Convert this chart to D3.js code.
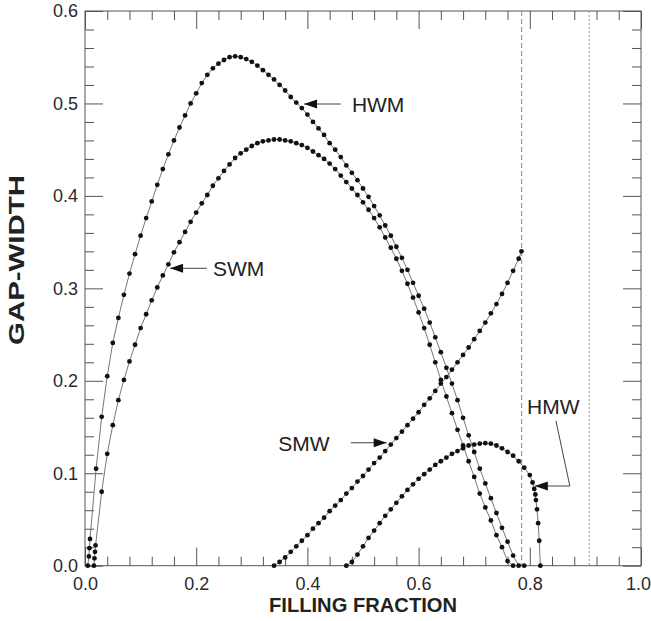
<!DOCTYPE html>
<html>
<head>
<meta charset="utf-8">
<script src="https://cdn.jsdelivr.net/npm/d3@7"></script>
<style>
  html, body { margin: 0; padding: 0; background: #fff; }
  svg { display: block; }
  .axis text { font-family: Arial, "Liberation Sans", Helvetica, sans-serif; font-size: 18px; fill: #2a2a2a; }
  .axis line { stroke: #555; stroke-width: 1; }
  .axis path { display: none; }
  .label { font-family: Arial, "Liberation Sans", Helvetica, sans-serif; fill: #222; }
</style>
</head>
<body>
<script>
// Gap width versus filling fraction, [filling fraction, gap width] per computed point
const HWM = [[0.005,0],[0.007,0.010],[0.008,0.019],[0.009,0.029],[0.02,0.105],[0.03,0.161],[0.04,0.205],[0.05,0.241],[0.06,0.268],[0.07,0.293],[0.08,0.316],[0.09,0.337],[0.10,0.357],[0.11,0.376],[0.12,0.394],[0.13,0.412],[0.14,0.429],[0.15,0.445],[0.16,0.460],[0.17,0.474],[0.18,0.487],[0.19,0.500],[0.20,0.511],[0.21,0.522],[0.22,0.531],[0.23,0.538],[0.24,0.543],[0.25,0.547],[0.26,0.550],[0.27,0.551],[0.28,0.550],[0.29,0.548],[0.30,0.545],[0.31,0.541],[0.32,0.536],[0.33,0.531],[0.34,0.526],[0.35,0.520],[0.36,0.514],[0.37,0.507],[0.38,0.501],[0.39,0.495],[0.40,0.488],[0.41,0.480],[0.42,0.473],[0.43,0.466],[0.44,0.457],[0.45,0.450],[0.46,0.442],[0.47,0.433],[0.48,0.425],[0.49,0.417],[0.50,0.408],[0.51,0.399],[0.52,0.389],[0.53,0.379],[0.54,0.368],[0.55,0.357],[0.56,0.345],[0.57,0.333],[0.58,0.320],[0.59,0.306],[0.60,0.292],[0.61,0.278],[0.62,0.263],[0.63,0.247],[0.64,0.231],[0.65,0.214],[0.66,0.197],[0.67,0.179],[0.68,0.160],[0.69,0.141],[0.70,0.123],[0.71,0.105],[0.72,0.089],[0.73,0.073],[0.74,0.057],[0.75,0.041],[0.76,0.026],[0.77,0.011],[0.78,0],[0.79,0]];

const SWM = [[0.016,0],[0.017,0.008],[0.018,0.015],[0.019,0.022],[0.03,0.080],[0.04,0.121],[0.05,0.152],[0.06,0.179],[0.07,0.201],[0.08,0.221],[0.09,0.239],[0.10,0.257],[0.11,0.272],[0.12,0.287],[0.13,0.301],[0.14,0.314],[0.15,0.326],[0.16,0.339],[0.17,0.350],[0.18,0.361],[0.19,0.372],[0.20,0.382],[0.21,0.392],[0.22,0.401],[0.23,0.411],[0.24,0.419],[0.25,0.427],[0.26,0.434],[0.27,0.441],[0.28,0.446],[0.29,0.450],[0.30,0.454],[0.31,0.457],[0.32,0.459],[0.33,0.460],[0.34,0.461],[0.35,0.461],[0.36,0.460],[0.37,0.459],[0.38,0.457],[0.39,0.455],[0.40,0.452],[0.41,0.448],[0.42,0.444],[0.43,0.440],[0.44,0.435],[0.45,0.429],[0.46,0.422],[0.47,0.415],[0.48,0.408],[0.49,0.401],[0.50,0.393],[0.51,0.385],[0.52,0.376],[0.53,0.366],[0.54,0.355],[0.55,0.344],[0.56,0.332],[0.57,0.319],[0.58,0.305],[0.59,0.290],[0.60,0.274],[0.61,0.257],[0.62,0.239],[0.63,0.220],[0.64,0.201],[0.65,0.183],[0.66,0.165],[0.67,0.147],[0.68,0.130],[0.69,0.113],[0.70,0.096],[0.71,0.078],[0.72,0.063],[0.73,0.049],[0.74,0.033],[0.75,0.020],[0.76,0.005],[0.77,0]];

const SMW = [[0.34,0],[0.35,0.004],[0.36,0.009],[0.37,0.015],[0.38,0.021],[0.39,0.027],[0.40,0.033],[0.41,0.040],[0.42,0.046],[0.43,0.052],[0.44,0.059],[0.45,0.065],[0.46,0.071],[0.47,0.078],[0.48,0.084],[0.49,0.091],[0.50,0.097],[0.51,0.104],[0.52,0.111],[0.53,0.117],[0.54,0.124],[0.55,0.131],[0.56,0.138],[0.57,0.145],[0.58,0.152],[0.59,0.159],[0.60,0.166],[0.61,0.174],[0.62,0.181],[0.63,0.189],[0.64,0.197],[0.65,0.204],[0.66,0.212],[0.67,0.220],[0.68,0.228],[0.69,0.236],[0.70,0.245],[0.71,0.254],[0.72,0.263],[0.73,0.273],[0.74,0.283],[0.75,0.294],[0.76,0.306],[0.77,0.319],[0.78,0.332],[0.785,0.340]];

const HMW = [[0.47,0],[0.48,0.004],[0.49,0.012],[0.50,0.021],[0.51,0.030],[0.52,0.038],[0.53,0.046],[0.54,0.054],[0.55,0.061],[0.56,0.068],[0.57,0.075],[0.58,0.082],[0.59,0.088],[0.60,0.094],[0.61,0.099],[0.62,0.104],[0.63,0.109],[0.64,0.113],[0.65,0.117],[0.66,0.121],[0.67,0.124],[0.68,0.127],[0.69,0.130],[0.70,0.131],[0.71,0.132],[0.72,0.1325],[0.73,0.132],[0.74,0.130],[0.75,0.127],[0.76,0.123],[0.77,0.119],[0.78,0.113],[0.79,0.106],[0.80,0.098],[0.805,0.090],[0.808,0.083],[0.810,0.077],[0.811,0.071],[0.813,0.061],[0.815,0.046],[0.817,0.027],[0.819,0]];

// Close-packing limits: square (pi/4) and hexagonal (pi/(2*sqrt 3))
const squareLimit = Math.PI / 4;
const hexLimit = Math.PI / (2 * Math.sqrt(3));

// Axis tick values
const xTicks = [0, 0.2, 0.4, 0.6, 0.8, 1.0];
const yTicks = [0, 0.1, 0.2, 0.3, 0.4, 0.5, 0.6];

// Curve labels: text position and the point each arrow indicates
const curveLabels = [
  { name: "HWM", text: [0.480, 0.4994], tip: [0.394, 0.4994], path: [[0.460, 0.4994]] },
  { name: "SWM", text: [0.230, 0.3217], tip: [0.153, 0.3217], path: [[0.219, 0.3217]] },
  { name: "SMW", text: [0.3475, 0.1325], tip: [0.5426, 0.1330], path: [[0.478, 0.1330]] },
  { name: "HMW", text: [0.795, 0.1727], tip: [0.809, 0.0862], path: [[0.847, 0.1568], [0.872, 0.0862]] }
];

const W = 651, H = 621;
const x = d3.scaleLinear().domain([0, 1]).range([85, 641]);
const y = d3.scaleLinear().domain([0, 0.6]).range([565.7, 11]);

const svg = d3.select("body").append("svg").attr("width", W).attr("height", H);
svg.append("rect").attr("width", W).attr("height", H).attr("fill", "#fff");

const xMinor = d3.range(0, 25).map(i => i * 0.04).filter(v => v > 0 && Math.abs(v / 0.2 - Math.round(v / 0.2)) > 1e-6);
const yMinor = d3.range(0, 31).map(i => i * 0.02).filter(v => v > 0 && Math.abs(v / 0.1 - Math.round(v / 0.1)) > 1e-6);
const fmt = d3.format(".1f");

function addAxis(gen, tx, ty) {
  return svg.append("g").attr("class", "axis").attr("transform", `translate(${tx},${ty})`).call(gen);
}
const [yb, yt] = y.range();
const [xl, xr] = x.range();

// bottom
addAxis(d3.axisBottom(x).tickValues(xMinor).tickSize(-9).tickFormat(""), 0, yb);
const xLab = addAxis(d3.axisBottom(x).tickValues(xTicks).tickSize(-18).tickPadding(12).tickFormat(fmt), 0, yb);
// keep the last label inside the page edge
xLab.selectAll(".tick text").filter(d => d === 1).attr("dx", "-3");
// top
addAxis(d3.axisTop(x).tickValues(xMinor).tickSize(-9).tickFormat(""), 0, yt);
addAxis(d3.axisTop(x).tickValues(xTicks).tickSize(-18).tickFormat(""), 0, yt);
// left
addAxis(d3.axisLeft(y).tickValues(yMinor).tickSize(-9).tickFormat(""), xl, 0);
addAxis(d3.axisLeft(y).tickValues(yTicks).tickSize(-18).tickPadding(7).tickFormat(fmt), xl, 0);
// right
addAxis(d3.axisRight(y).tickValues(yMinor).tickSize(-9).tickFormat(""), xr, 0);
addAxis(d3.axisRight(y).tickValues(yTicks).tickSize(-18).tickFormat(""), xr, 0);

// frame
svg.append("rect")
  .attr("x", xl).attr("y", yt).attr("width", xr - xl).attr("height", yb - yt)
  .attr("fill", "none").attr("stroke", "#555").attr("stroke-width", 1);

// packing limits
svg.append("line")
  .attr("x1", x(squareLimit)).attr("x2", x(squareLimit)).attr("y1", yt).attr("y2", yb)
  .attr("stroke", "#8a8a8a").attr("stroke-width", 1).attr("stroke-dasharray", "5,3");
svg.append("line")
  .attr("x1", x(hexLimit)).attr("x2", x(hexLimit)).attr("y1", yt).attr("y2", yb)
  .attr("stroke", "#9a9a9a").attr("stroke-width", 1).attr("stroke-dasharray", "2,2");

// curves
const line = d3.line().x(d => x(d[0])).y(d => y(d[1]));
[HWM, SWM, SMW, HMW].forEach(series => {
  svg.append("path").datum(series).attr("d", line)
    .attr("fill", "none").attr("stroke", "#666").attr("stroke-width", 0.9);
  svg.append("g").selectAll("circle").data(series).join("circle")
    .attr("cx", d => x(d[0])).attr("cy", d => y(d[1])).attr("r", 2.4).attr("fill", "#111");
});

// curve labels with arrows
curveLabels.forEach(c => {
  const route = [...c.path, c.tip];
  svg.append("path")
    .attr("d", d3.line()(route.map(p => [x(p[0]), y(p[1])])))
    .attr("fill", "none").attr("stroke", "#444").attr("stroke-width", 1);
  const prev = route[route.length - 2];
  const tx = x(c.tip[0]), ty = y(c.tip[1]);
  const ang = Math.atan2(y(prev[1]) - ty, x(prev[0]) - tx);
  const len = 13, hw = 4.5;
  const bx = tx + len * Math.cos(ang), by = ty + len * Math.sin(ang);
  const nx = -Math.sin(ang) * hw, ny = Math.cos(ang) * hw;
  svg.append("path")
    .attr("d", `M${tx},${ty}L${bx + nx},${by + ny}L${bx - nx},${by - ny}Z`)
    .attr("fill", "#111");
  svg.append("text").attr("class", "label")
    .attr("x", x(c.text[0])).attr("y", y(c.text[1])).attr("dy", "0.36em")
    .attr("font-size", 21).text(c.name);
});

// axis titles
svg.append("text").attr("class", "label")
  .attr("x", (xl + xr) / 2).attr("y", 612).attr("text-anchor", "middle")
  .attr("font-size", 20).attr("font-weight", "bold")
  .attr("textLength", 188).attr("lengthAdjust", "spacingAndGlyphs")
  .text("FILLING FRACTION");
svg.append("text").attr("class", "label")
  .attr("transform", "translate(24,260) rotate(-90)")
  .attr("text-anchor", "middle")
  .attr("font-size", 22).attr("font-weight", "bold")
  .attr("textLength", 170).attr("lengthAdjust", "spacingAndGlyphs")
  .text("GAP-WIDTH");
</script>
</body>
</html>
